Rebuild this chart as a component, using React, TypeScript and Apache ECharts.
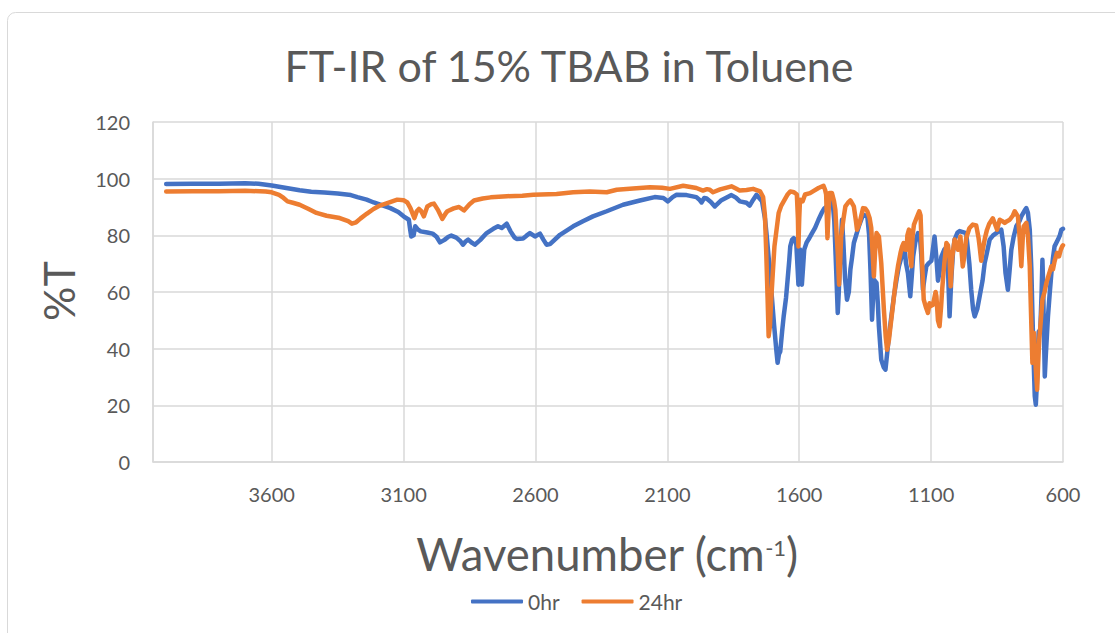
import React, { useEffect, useRef } from "react";
import * as echarts from "echarts";

const TITLE = "FT-IR of 15% TBAB in Toluene";
const Y_NAME = "%T";
const SERIES_NAMES = ["0hr", "24hr"];
const SERIES_COLORS = ["#4472C4", "#ED7D31"];
const X_MIN = 600;
const X_MAX = 4050;
const X_STEP = 500;
const Y_MIN = 0;
const Y_MAX = 120;
const Y_STEP = 20;

// [wavenumber (cm-1), %T]
const spectrum0hr: [number, number][] = [
  [4000, 98.1], [3900, 98.2], [3800, 98.2], [3700, 98.4], [3650, 98.2], [3600, 97.6],
  [3550, 96.8], [3494, 95.9], [3450, 95.4], [3400, 95.1], [3350, 94.8], [3300, 94.2],
  [3275, 93.5], [3240, 92.6], [3213, 91.6], [3180, 90.6], [3150, 89.6], [3120, 88.2],
  [3100, 86.7], [3080, 85.5], [3075, 82.0], [3071, 79.6], [3062, 80.0], [3056, 83.2],
  [3045, 82.0], [3035, 81.4], [3010, 81.0], [2990, 80.6], [2975, 79.5], [2962, 77.5],
  [2945, 78.4], [2930, 79.5], [2919, 79.9], [2900, 79.2], [2885, 78.0], [2875, 76.7],
  [2865, 77.8], [2855, 78.5], [2840, 77.3], [2830, 76.7], [2810, 78.3], [2785, 80.8],
  [2760, 82.3], [2742, 83.2], [2728, 82.6], [2709, 84.1], [2695, 81.5], [2680, 79.3],
  [2671, 78.7], [2647, 78.9], [2635, 79.8], [2621, 80.8], [2602, 79.6], [2583, 80.6],
  [2570, 78.5], [2558, 76.7], [2545, 76.9], [2507, 80.2], [2457, 83.2], [2420, 85.0],
  [2382, 86.7], [2330, 88.5], [2268, 90.8], [2204, 92.3], [2148, 93.5], [2115, 93.2],
  [2098, 92.0], [2080, 93.5], [2065, 94.3], [2027, 94.2], [1990, 93.5], [1978, 92.5],
  [1970, 91.6], [1960, 93.2], [1951, 93.0], [1935, 91.8], [1920, 90.2], [1895, 92.4],
  [1857, 94.2], [1840, 93.3], [1825, 92.0], [1800, 91.5], [1788, 90.5], [1775, 92.5],
  [1762, 94.3], [1750, 93.0], [1741, 92.0], [1730, 86.0], [1723, 79.6], [1712, 68.0],
  [1704, 58.5], [1695, 48.0], [1687, 39.6], [1682, 35.0], [1677, 38.0], [1672, 39.0],
  [1665, 46.0], [1659, 51.4], [1650, 58.0], [1644, 64.4], [1638, 71.0], [1634, 76.1],
  [1627, 78.5], [1621, 79.0], [1615, 78.5], [1611, 76.7], [1606, 68.0], [1603, 62.6],
  [1600, 70.0], [1597, 75.0], [1593, 68.0], [1590, 62.6], [1586, 68.0], [1581, 75.0],
  [1572, 77.5], [1565, 78.5], [1553, 80.5], [1540, 82.6], [1527, 85.5], [1515, 87.9],
  [1505, 89.5], [1496, 90.2], [1483, 92.0], [1473, 91.4], [1467, 85.0], [1460, 67.9],
  [1454, 52.6], [1450, 60.0], [1447, 67.9], [1442, 78.0], [1438, 85.5], [1433, 78.0],
  [1426, 64.4], [1419, 57.3], [1412, 60.0], [1406, 68.0], [1400, 72.0], [1393, 77.3],
  [1374, 83.2], [1358, 87.3], [1342, 86.7], [1335, 80.0], [1330, 67.9], [1324, 50.2],
  [1320, 58.0], [1317, 64.4], [1307, 63.2], [1302, 56.0], [1298, 47.9], [1289, 36.1],
  [1280, 33.5], [1273, 32.6], [1267, 38.0], [1260, 44.4], [1250, 52.0], [1241, 58.5],
  [1230, 65.0], [1222, 69.1], [1212, 72.5], [1204, 74.9], [1200, 74.9], [1195, 70.0],
  [1188, 66.7], [1179, 58.5], [1173, 66.0], [1168, 72.6], [1160, 77.5], [1150, 80.8],
  [1143, 80.5], [1137, 72.6], [1131, 60.8], [1125, 65.0], [1118, 69.1], [1109, 70.2],
  [1099, 71.0], [1087, 79.6], [1080, 72.0], [1074, 64.0], [1068, 67.0], [1061, 72.5],
  [1050, 75.0], [1042, 75.8], [1036, 68.0], [1030, 51.4], [1023, 65.5], [1017, 74.0],
  [1011, 78.5], [1000, 81.0], [992, 81.5], [967, 80.8], [955, 70.0], [948, 60.8],
  [941, 54.0], [935, 51.4], [925, 54.0], [916, 58.5], [905, 64.0], [897, 70.2],
  [888, 74.0], [878, 78.5], [865, 80.0], [853, 80.8], [834, 82.0], [825, 76.0],
  [818, 66.7], [809, 60.8], [803, 67.0], [796, 74.9], [787, 79.5], [777, 83.2],
  [765, 85.0], [758, 86.7], [745, 88.8], [739, 89.6], [733, 88.0], [726, 82.0],
  [720, 68.0], [716, 52.6], [711, 35.0], [707, 23.2], [703, 20.2], [699, 28.0],
  [695, 39.6], [692, 46.0], [686, 46.7], [681, 60.0], [678, 71.4], [675, 62.0],
  [673, 49.0], [669, 30.2], [665, 38.0], [657, 51.4], [650, 60.0], [644, 66.7],
  [638, 72.0], [632, 76.1], [619, 78.5], [612, 80.0], [606, 82.0], [600, 82.3],
];

const spectrum24hr: [number, number][] = [
  [4000, 95.5], [3900, 95.6], [3800, 95.6], [3700, 95.7], [3623, 95.5], [3600, 95.2],
  [3572, 94.3], [3555, 93.2], [3540, 92.0], [3520, 91.5], [3494, 90.8], [3460, 89.3],
  [3430, 87.9], [3392, 86.9], [3342, 86.1], [3310, 85.0], [3296, 84.1], [3280, 84.6],
  [3264, 85.9], [3240, 87.6], [3214, 89.3], [3190, 90.5], [3162, 91.4], [3124, 92.6],
  [3100, 92.4], [3086, 91.6], [3074, 89.6], [3059, 86.1], [3050, 88.5], [3042, 89.3],
  [3033, 88.5], [3023, 86.7], [3010, 90.2], [2995, 91.0], [2985, 91.2], [2970, 89.0],
  [2953, 85.8], [2940, 87.8], [2934, 88.5], [2910, 89.5], [2890, 90.0], [2871, 88.8],
  [2850, 91.0], [2833, 92.3], [2800, 93.0], [2770, 93.4], [2708, 93.8], [2650, 94.0],
  [2608, 94.3], [2520, 94.6], [2457, 95.2], [2394, 95.5], [2330, 95.2], [2292, 96.1],
  [2230, 96.5], [2166, 97.0], [2120, 96.8], [2090, 96.4], [2040, 97.5], [1990, 96.7],
  [1965, 95.8], [1950, 96.3], [1939, 96.1], [1927, 95.2], [1900, 96.2], [1857, 97.3],
  [1840, 96.5], [1826, 95.8], [1800, 96.0], [1775, 96.4], [1748, 95.5], [1737, 93.5],
  [1730, 87.0], [1725, 73.8], [1720, 58.0], [1716, 44.4], [1711, 48.0], [1707, 56.1],
  [1700, 67.0], [1694, 76.1], [1686, 82.0], [1678, 87.9], [1668, 90.5], [1659, 92.0],
  [1645, 94.3], [1634, 95.5], [1620, 95.2], [1609, 94.4], [1605, 86.0], [1603, 76.1],
  [1600, 86.0], [1597, 92.6], [1587, 92.0], [1578, 94.4], [1559, 94.9], [1545, 95.7],
  [1527, 96.7], [1508, 97.5], [1502, 96.1], [1498, 94.4], [1493, 79.0], [1488, 90.0],
  [1485, 94.9], [1476, 94.9], [1468, 92.0], [1463, 89.0], [1458, 80.0], [1454, 73.8],
  [1449, 62.6], [1445, 70.0], [1441, 79.6], [1432, 86.0], [1425, 90.2], [1415, 91.5],
  [1406, 92.3], [1393, 90.2], [1385, 85.0], [1381, 82.0], [1371, 84.4], [1358, 89.6],
  [1350, 89.5], [1342, 88.5], [1333, 86.0], [1327, 82.6], [1322, 74.0], [1317, 65.5],
  [1312, 75.0], [1307, 80.8], [1298, 79.6], [1289, 70.2], [1279, 53.8], [1272, 44.0],
  [1267, 39.6], [1260, 43.0], [1254, 47.9], [1245, 55.0], [1235, 63.2], [1225, 69.5],
  [1216, 73.8], [1210, 76.0], [1204, 77.3], [1200, 75.0], [1193, 74.9], [1190, 80.0],
  [1184, 82.0], [1180, 73.0], [1175, 69.1], [1170, 80.0], [1165, 83.8], [1155, 86.2],
  [1145, 88.5], [1140, 87.0], [1137, 79.0], [1133, 68.0], [1128, 57.3], [1121, 55.0],
  [1112, 52.6], [1106, 56.0], [1102, 55.0], [1093, 55.5], [1083, 60.0], [1080, 58.5],
  [1074, 50.0], [1068, 47.9], [1062, 55.0], [1058, 61.0], [1050, 70.0], [1042, 77.3],
  [1036, 76.5], [1030, 72.0], [1026, 62.0], [1020, 72.0], [1011, 78.5], [998, 74.9],
  [989, 79.6], [980, 69.0], [975, 72.0], [967, 79.0], [955, 82.5], [942, 83.8],
  [929, 83.5], [920, 79.0], [916, 76.0], [910, 71.0], [904, 75.0], [896, 79.0],
  [888, 82.0], [880, 84.0], [866, 86.0], [858, 84.0], [850, 82.0], [840, 85.5],
  [830, 85.0], [821, 84.4], [812, 85.0], [802, 85.5], [790, 87.0], [783, 88.5],
  [771, 86.7], [765, 80.0], [758, 69.1], [752, 80.0], [749, 83.2], [739, 84.4],
  [733, 80.0], [726, 69.1], [722, 55.0], [716, 35.0], [713, 42.0], [710, 45.5],
  [706, 38.0], [703, 32.6], [698, 25.5], [694, 35.0], [690, 43.2], [684, 50.0],
  [678, 57.3], [670, 60.0], [663, 63.2], [654, 66.0], [644, 69.1], [638, 68.0],
  [632, 70.8], [623, 73.8], [615, 72.6], [608, 75.0], [603, 76.1], [600, 76.5],
];

const FONT = "Lato, 'Open Sans', sans-serif";
const TEXT_COLOR = "#595959";
const GRID_COLOR = "#d9d9d9";

export default function App() {
  const ref = useRef<HTMLDivElement>(null);

  useEffect(() => {
    if (!ref.current) return;
    const chart = echarts.init(ref.current, null, { renderer: "svg" });
    const toSeries = (pts: [number, number][]) => pts.map(([w, t]) => [w - X_MIN, t]);
    const spectra = [spectrum0hr, spectrum24hr];

    chart.setOption({
      animation: false,
      backgroundColor: "#ffffff",
      textStyle: { fontFamily: FONT },
      grid: { left: 153, right: 52, top: 122, bottom: 171, containLabel: false },
      xAxis: {
        type: "value",
        inverse: true,
        min: 0,
        max: X_MAX - X_MIN,
        interval: X_STEP,
        axisLine: { show: true, onZero: false, lineStyle: { color: GRID_COLOR, width: 1.5 } },
        axisTick: { show: false },
        splitLine: { show: true, lineStyle: { color: GRID_COLOR, width: 1.5 } },
        axisLabel: {
          color: TEXT_COLOR,
          fontSize: 20,
          fontFamily: FONT,
          margin: 22,
          formatter: (v: number) => (v % X_STEP === 0 ? String(v + X_MIN) : ""),
        },
      },
      yAxis: {
        type: "value",
        min: Y_MIN,
        max: Y_MAX,
        interval: Y_STEP,
        axisLine: { show: true, onZero: false, lineStyle: { color: GRID_COLOR, width: 1.5 } },
        axisTick: { show: false },
        splitLine: { show: true, lineStyle: { color: GRID_COLOR, width: 1.5 } },
        axisLabel: { color: TEXT_COLOR, fontSize: 20, fontFamily: FONT, margin: 23 },
      },
      legend: {
        data: SERIES_NAMES,
        left: 466,
        top: 586,
        icon: "roundRect",
        itemWidth: 52,
        itemHeight: 4,
        itemGap: 22,
        textStyle: { color: TEXT_COLOR, fontSize: 21, fontFamily: FONT },
      },
      graphic: [
        {
          type: "rect",
          silent: true,
          z: -10,
          shape: { x: 7.5, y: 12.5, width: 1300, height: 800, r: 8 },
          style: { fill: "none", stroke: GRID_COLOR, lineWidth: 1 },
        },
        {
          type: "text",
          x: 569,
          y: 65,
          style: {
            text: TITLE,
            fontSize: 43,
            fontFamily: FONT,
            fill: TEXT_COLOR,
            align: "center",
            verticalAlign: "middle",
          },
        },
        {
          type: "text",
          x: 58,
          y: 291,
          rotation: Math.PI / 2,
          style: {
            text: Y_NAME,
            fontSize: 43,
            fontFamily: FONT,
            fill: TEXT_COLOR,
            align: "center",
            verticalAlign: "middle",
          },
        },
        {
          type: "text",
          x: 607,
          y: 553,
          style: {
            text: "{a|Wavenumber (cm}{s|-1}{a|)}",
            fontSize: 45.5,
            fontFamily: FONT,
            fill: TEXT_COLOR,
            align: "center",
            verticalAlign: "middle",
            rich: {
              a: { fontSize: 45.5, fontFamily: FONT, fill: TEXT_COLOR },
              s: { fontSize: 22, fontFamily: FONT, fill: TEXT_COLOR, verticalAlign: "top", padding: [6, 0, 0, 0] },
            },
          },
        },
      ],
      series: spectra.map((pts, i) => ({
        name: SERIES_NAMES[i],
        type: "line",
        data: toSeries(pts),
        symbol: "none",
        smooth: false,
        color: SERIES_COLORS[i],
        lineStyle: { color: SERIES_COLORS[i], width: 4.5, cap: "round", join: "round" },
        z: 2 + i,
      })),
    });

    return () => chart.dispose();
  }, []);

  return (
    <div
      ref={ref}
      style={{ position: "fixed", left: 0, top: 0, width: 1115, height: 633, background: "#fff" }}
    />
  );
}
